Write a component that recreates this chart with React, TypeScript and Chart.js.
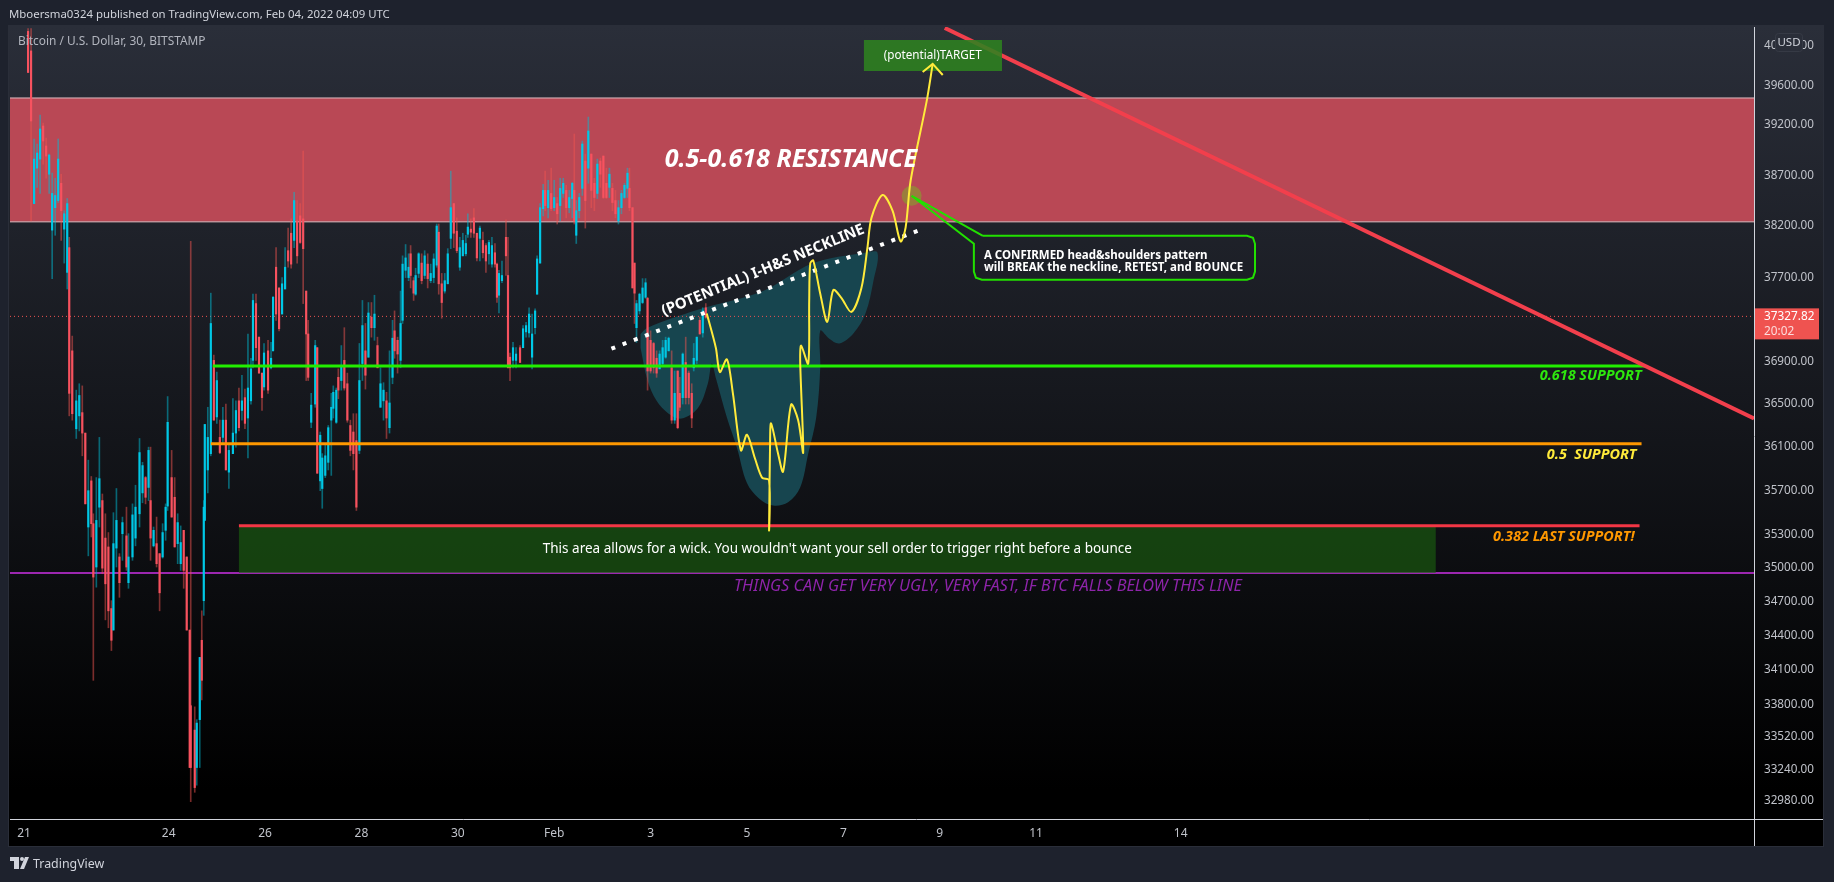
import React, { useEffect, useRef } from "react";
import { Chart, registerables } from "chart.js";

Chart.register(...registerables);

const FONT = '"Noto Sans", sans-serif';

// x unit: 30-minute bars counted from Jan 21 00:00 (48 per day)
const tickBars = [0, 144, 240, 336, 432, 528, 624, 720, 816, 912, 1008, 1152];
const tickLabels = ["21", "24", "26", "28", "30", "Feb", "3", "5", "7", "9", "11", "14"];
const priceTicks = [40000, 39600, 39200, 38700, 38200, 37700, 36900, 36500, 36100, 35700, 35300, 35000, 34700, 34400, 34100, 33800, 33520, 33240, 32980];

const bars = [4,7,10,13,16,19,22,25,28,31,34,37,40,43,45,48,52,55,58,61,
64,67,69,72,75,78,81,84,87,89,92,95,98,102,104,108,111,115,118,121,
124,126,129,132,135,138,141,143,147,150,153,156,159,162,165,166,170,172,175,177,
179,180,183,186,189,192,195,198,201,204,208,211,214,217,220,223,226,228,231,234,
237,239,243,246,248,251,254,257,260,263,266,269,272,275,278,281,283,286,290,292,
295,297,300,303,306,308,311,313,316,319,322,325,328,331,334,337,340,343,346,349,
352,355,358,361,364,367,369,372,375,377,380,383,385,388,390,393,396,399,402,405,
408,411,413,416,419,422,425,428,431,434,437,440,442,445,448,451,454,457,460,463,
466,469,471,473,476,480,482,484,487,490,494,497,500,503,506,509,511,514,517,519,
522,525,528,531,534,537,540,543,546,548,550,553,556,559,562,565,568,571,574,577,
580,583,586,589,592,595,598,601,603,606,608,610,613,616,619,621,624,627,630,633,
636,639,642,645,648,651,653,656,659,662,665,667,670,673,676,679];

const highs = [40180,40180,39060,39010,39300,39220,39070,38910,38720,38670,39060,38710,38350,38470,38090,37140,36630,36690,36670,36230,
35980,35830,35490,35820,36190,35670,35490,35320,34710,35500,35720,35130,35460,35550,35310,35580,35750,36180,35960,35830,
36100,36100,35370,35460,35130,35400,35580,36570,36070,35820,35490,35380,35340,35100,34450,38050,33780,33670,34210,34620,
35610,36310,36470,37550,36960,36800,36350,36470,36500,36130,36550,36530,36650,36770,36640,37160,36930,37540,37540,37130,
36790,37070,37100,37080,37520,37990,37600,37700,37990,38180,38270,38530,38450,38420,38940,37570,37290,36600,37100,37030,
36240,36040,36130,36300,36600,36670,36650,36830,37050,37220,36790,36350,36410,36410,37070,37480,37260,37460,37460,37530,
37130,36840,36700,36610,37000,37290,37380,37130,37570,37910,38020,37930,38010,37700,37790,37940,37930,37960,37930,37830,
37930,38220,38220,37740,37740,37980,38740,38420,38280,38090,38130,38110,38320,38270,38370,38130,38200,38140,38030,38060,
38090,38030,37840,37770,37860,38260,38090,36980,37080,37030,37050,37240,37270,37410,37350,37400,37910,38420,38610,38740,
38650,38770,38650,38480,38670,38670,38600,38550,38630,39110,38450,38520,39040,38910,39280,38910,38670,38860,38870,38890,
38770,38770,38620,38550,38450,38550,38620,38770,38770,38380,37840,37480,37550,37690,37690,37510,37190,37080,37000,37000,
37100,37130,37130,37000,36810,36810,36750,36980,37130,36810,36690,37070,37130,37320,37410,37450];

const lows = [39730,38250,38420,38580,38520,38810,38670,38520,37690,38110,38430,38060,37840,37590,36390,36350,36180,36250,36020,35580,
35110,35280,34010,34830,35370,34950,34540,34470,34270,34450,35010,34740,35070,34980,34820,35070,35200,35370,35590,35580,
35610,35070,35190,35010,34620,35090,35250,35520,35460,35190,35040,34980,34820,34450,33260,32970,33050,33110,33260,33840,
34580,35430,35680,36020,36350,36320,36040,36130,35890,35720,36040,36100,36250,36350,36270,36000,36500,36840,36910,36790,
36440,36630,36600,36830,37000,37290,37190,37350,37590,37800,37790,37990,37840,38030,37450,36720,36720,36280,36470,35860,
35700,35540,35820,35890,35840,36370,36320,36550,36630,36630,36330,36020,35890,35520,36040,36720,36640,36940,37130,37100,
36840,36470,36350,36180,36230,36690,36930,36790,36840,37260,37700,37670,37600,37480,37530,37700,37640,37690,37600,37650,
37650,37800,37540,37310,37550,37640,37980,37990,37940,37770,37910,37910,38090,38090,38090,37860,37860,37890,37750,37830,
37800,37800,37460,37360,37650,37720,36840,36720,36840,36840,36890,37030,37130,37130,36830,37160,37540,37840,38300,38350,
38280,38350,38350,38220,38250,38480,38280,38330,38280,38220,38030,38280,38500,38180,38620,38380,38350,38470,38580,38470,
38470,38480,38350,38280,38220,38320,38470,38480,38350,37600,37260,37080,37350,37450,37500,36630,36790,36790,36750,36830,
36860,36930,37000,36320,36320,36270,36440,36500,36500,36500,36280,36810,36880,37160,37130,37310];

const opens = [40150,39950,38420,38770,38860,39190,38990,38710,38160,38380,38450,38620,38170,37750,37990,37000,36270,36390,36420,36230,
35370,35790,35400,35010,35550,35610,35270,35190,34640,34450,35180,35100,35310,35290,34870,35100,35270,35490,35680,35820,
35730,35610,35200,35220,35130,35100,35340,35560,35820,35640,35220,35040,35340,35100,34450,33790,33580,33260,33670,34360,
34710,35430,35890,36040,36910,36380,36190,36190,36350,35870,36040,36230,36530,36440,36560,36370,36530,36910,37450,37130,
36790,36660,37000,36840,37000,37800,37600,37350,37590,37960,38130,38060,38250,38300,38270,37570,37160,36330,36500,37030,
35790,35720,35840,35960,36350,36460,36330,36750,36720,36910,36690,36300,36240,36160,36070,36880,37000,36940,37320,37220,
37050,36470,36530,36530,36280,36750,37190,37100,36910,37290,37770,37700,37930,37670,37540,37740,37840,37720,37830,37670,
37700,37820,38140,37640,37570,37640,38080,38420,38150,37800,37910,37930,38120,38170,38280,38130,38080,38060,38010,37930,
37830,37940,37830,37530,37670,38090,37720,36940,36910,36910,37030,37030,37180,37170,36940,37220,37540,37840,38370,38550,
38380,38520,38380,38420,38400,38520,38550,38380,38470,38550,38110,38350,38570,38840,38770,38910,38620,38520,38840,38890,
38620,38580,38570,38450,38250,38380,38480,38570,38570,38380,37840,37220,37380,37460,37510,37500,37100,37070,36930,36830,
36880,36940,37000,36840,36350,36810,36600,36560,36890,36790,36600,36840,36910,37290,37170,37410];

const closes = [39730,39240,38860,38920,39160,39040,38890,38900,38520,38500,38860,38350,38320,38420,36600,36410,36530,36580,36230,35580,
35700,35400,34920,35430,35810,35000,34860,34620,34360,35220,35430,34870,35410,35010,35100,35480,35550,36050,35930,35640,
36070,35270,35340,35040,34780,35320,35550,36330,35460,35190,35410,35230,34980,34450,33260,33260,33090,33640,34210,34010,
35550,36310,36190,37260,36350,36720,36050,36350,35890,36070,36230,36440,36280,36530,36320,36650,36830,37480,37030,36790,
36560,36980,36630,36930,37510,37350,37210,37640,37800,37860,37830,38450,37910,38040,37980,37160,36750,36490,37050,35860,
36210,36000,36020,36280,36470,36610,36630,36630,36860,36650,36350,36070,36040,35550,36720,37240,36770,37360,37220,37350,
36840,36690,36630,36370,36510,37120,37000,36970,37260,37830,37890,37800,37720,37550,37720,37930,37670,37910,37690,37740,
37880,38200,37640,37460,37670,37930,38380,38130,37960,37990,38060,38030,38190,38140,38130,37890,38180,37940,37860,38040,
38010,37830,37510,37740,37720,37910,36840,36840,37030,36970,36890,37210,37240,37350,37160,37380,37880,38380,38550,38400,
38550,38370,38480,38320,38570,38620,38380,38480,38620,38250,38350,38480,39010,38450,39140,38550,38480,38810,38710,38480,
38480,38710,38430,38320,38380,38520,38600,38720,38380,37600,37550,37450,37540,37600,37650,36810,36810,36840,36790,36970,
37030,37100,37120,36350,36600,36280,36470,36970,36560,36560,36370,36930,37130,37160,37380,37320];

// horizontal levels
const resistanceTop = 39472;
const resistanceBottom = 38241;
const support618 = 36856;
const support05 = 36132;
const support382 = 35382;
const ugliness = 34956;
const lastPrice = 37327.82;
const wickZoneTop = 35375;

// hand-drawn projected path
const projBars = [680,689,693,700,706,714,720,728,735,742,742,743,744,751,756,764,771,776,773,774,781,782,783,786,793,800,806,814,824,834,840,844,855,865,873,878,883,899,905];
const projPrices = [37355,37030,36800,36920,36600,36070,36215,35995,35820,35794,35340,36115,36320,36040,35875,36495,36350,36050,36910,37050,36880,37480,37835,37865,37545,37275,37580,37505,37370,37600,37990,38280,38505,38350,38050,38185,38645,39440,39817];
const arrowBars = [895, 905, 915];
const arrowPrices = [39735, 39817, 39705];

// inverse head & shoulders brush shape
const blobBars = [614,621,671,736,785,838,850,846,838,826,812,802,793,793,789,781,773,761,746,732,720,710,700,689,685,681,671,655,642,630,621,614];
const blobPrices = [37160,37220,37390,37570,37835,37940,37940,37670,37355,37165,37070,37115,37190,36840,36375,36040,35730,35595,35565,35630,35770,36095,36375,36745,36880,36690,36460,36365,36410,36530,36720,37030];

// callout outline
const calloutBars = [955,1218,1224,1226,1226,1224,1218,954,948,946,946,884,955];
const calloutPrices = [38105,38105,38086,38027,37757,37699,37680,37680,37699,37757,38027,38497,38105];

const necklineBars = [585, 897];
const necklinePrices = [37020, 38180];
const trendBars = [917, 1723];
const trendPrices = [40185, 36365];
const targetBars = [836.5, 974];
const targetPrices = [40061, 39746];
const calloutDot = { bar: 884, price: 38497 };

const X_MIN = -14;
const X_MAX = 1723;

const labels = [
  { text: "0.5-0.618 RESISTANCE", bar: 638, price: 38855, font: `italic bold 25px ${FONT}`, color: "#ffffff", align: "left", rot: 0 },
  { text: "(POTENTIAL) I-H&S NECKLINE", bar: 736, price: 37770, font: `bold 15px ${FONT}`, color: "#ffffff", align: "center", rot: -22.4 },
  { text: "0.618 SUPPORT", bar: 1611, price: 36760, font: `italic bold 14.4px ${FONT}`, color: "#2ee80e", align: "right", rot: 0 },
  { text: "0.5  SUPPORT", bar: 1606, price: 36030, font: `italic bold 14.4px ${FONT}`, color: "#ffeb3b", align: "right", rot: 0 },
  { text: "0.382 LAST SUPPORT!", bar: 1604, price: 35285, font: `italic bold 14.4px ${FONT}`, color: "#ff9800", align: "right", rot: 0 },
  { text: "THINGS CAN GET VERY UGLY, VERY FAST, IF BTC FALLS BELOW THIS LINE", bar: 960, price: 34840, font: `italic 16.3px ${FONT}`, color: "#8e24aa", align: "center", rot: 0 },
  { text: "This area allows for a wick. You wouldn't want your sell order to trigger right before a bounce", bar: 810, price: 35170, font: `13.5px ${FONT}`, color: "#ffffff", align: "center", rot: 0 },
  { text: "(potential)TARGET", bar: 905, price: 39903, font: `11.7px ${FONT}`, color: "#ffffff", align: "center", rot: 0 },
  { text: "A CONFIRMED head&shoulders pattern", bar: 956, price: 37910, font: `bold 11.5px ${FONT}`, color: "#ffffff", align: "left", rot: 0 },
  { text: "will BREAK the neckline, RETEST, and BOUNCE", bar: 956, price: 37795, font: `bold 11.5px ${FONT}`, color: "#ffffff", align: "left", rot: 0 },
];

const zip = (xs: number[], ys: number[]) => xs.map((x, i) => ({ x, y: ys[i] }));
const seg = (b0: number, b1: number, p: number) => [{ x: b0, y: p }, { x: b1, y: p }];
const rect = (b0: number, b1: number, top: number, bottom: number) => [
  { x: b0, y: top }, { x: b1, y: top }, { x: b1, y: bottom }, { x: b0, y: bottom },
];
const line = (data: any[], color: string, width: number, order: number, extra: any = {}) => ({
  type: "line", data, borderColor: color, borderWidth: width, pointRadius: 0, fill: false, order, tension: 0, ...extra,
});
const area = (data: any[], color: string, order: number, extra: any = {}) => ({
  type: "line", data, backgroundColor: color, borderWidth: 0, pointRadius: 0, fill: "shape", order, tension: 0, ...extra,
});

const UP_BODY = "#00c8e6";
const DOWN_BODY = "#f7525f";
const UP_WICK = "rgba(0,188,212,0.5)";
const DOWN_WICK = "rgba(239,83,80,0.5)";

const chromePlugin = {
  id: "chrome",
  beforeDraw(chart: any) {
    const { ctx, width, height } = chart;
    ctx.save();
    ctx.fillStyle = "#1e222d";
    ctx.fillRect(0, 0, width, height);
    const g = ctx.createLinearGradient(0, 26, 0, 790);
    g.addColorStop(0, "#2a2e39");
    g.addColorStop(1, "#000000");
    ctx.fillStyle = g;
    ctx.fillRect(9, 26, 1814, 820);
    ctx.restore();
  },
  afterDraw(chart: any) {
    const { ctx, chartArea, scales } = chart;
    const { left, right, top, bottom } = chartArea;
    ctx.save();
    // axis rules
    ctx.strokeStyle = "#d1d4dc";
    ctx.lineWidth = 1;
    ctx.beginPath();
    ctx.moveTo(right + 0.5, top);
    ctx.lineTo(right + 0.5, 846);
    ctx.moveTo(left, bottom + 0.5);
    ctx.lineTo(1823, bottom + 0.5);
    ctx.stroke();
    // panel edge
    ctx.strokeStyle = "#2a2e39";
    ctx.strokeRect(8.5, 25.5, 1815, 821);
    // header
    ctx.textBaseline = "middle";
    ctx.textAlign = "left";
    ctx.fillStyle = "#d1d4dc";
    ctx.font = `11.4px ${FONT}`;
    ctx.fillText("Mboersma0324 published on TradingView.com, Feb 04, 2022 04:09 UTC", 9, 15);
    ctx.fillStyle = "#b2b5be";
    ctx.font = `11.9px ${FONT}`;
    ctx.fillText("Bitcoin / U.S. Dollar, 30, BITSTAMP", 18, 42);
    // logo
    ctx.fillStyle = "#d1d4dc";
    ctx.fillRect(10, 857, 9, 4);
    ctx.fillRect(14, 857, 5, 12);
    ctx.beginPath();
    ctx.arc(22, 859, 2, 0, Math.PI * 2);
    ctx.fill();
    ctx.beginPath();
    ctx.moveTo(25, 857);
    ctx.lineTo(29, 857);
    ctx.lineTo(24, 869);
    ctx.lineTo(20, 869);
    ctx.closePath();
    ctx.fill();
    ctx.font = `12.4px ${FONT}`;
    ctx.fillText("TradingView", 33, 864);
    // USD chip
    ctx.fillStyle = "#2a2e39";
    ctx.strokeStyle = "#363a45";
    ctx.beginPath();
    ctx.roundRect(1775.5, 33.5, 27, 18, 3);
    ctx.fill();
    ctx.stroke();
    ctx.fillStyle = "#d1d4dc";
    ctx.font = `11.5px ${FONT}`;
    ctx.textAlign = "center";
    ctx.fillText("USD", 1789, 43);
    // last price tag
    const py = scales.y.getPixelForValue(lastPrice);
    ctx.fillStyle = "#ef5350";
    ctx.fillRect(right + 1, py - 8, 64, 31);
    ctx.textAlign = "left";
    ctx.fillStyle = "#ffffff";
    ctx.font = `11.8px ${FONT}`;
    ctx.fillText(lastPrice.toFixed(2), 1764, py);
    ctx.fillStyle = "#fcdcdc";
    ctx.fillText("20:02", 1764, py + 15);
    ctx.restore();
  },
  afterDatasetsDraw(chart: any) {
    const { ctx, scales } = chart;
    ctx.save();
    ctx.textBaseline = "middle";
    for (const l of labels) {
      const px = scales.x.getPixelForValue(l.bar);
      const py = scales.y.getPixelForValue(l.price);
      ctx.save();
      ctx.translate(px, py);
      ctx.rotate((l.rot * Math.PI) / 180);
      ctx.font = l.font;
      ctx.fillStyle = l.color;
      ctx.textAlign = l.align;
      ctx.fillText(l.text, 0, 0);
      ctx.restore();
    }
    ctx.restore();
  },
};

export default function App() {
  const ref = useRef<HTMLCanvasElement | null>(null);
  useEffect(() => {
    if (!ref.current) return;
    const isUp = closes.map((c, i) => c >= opens[i]);
    const chart = new Chart(ref.current, {
      type: "bar",
      data: {
        datasets: [
          area(rect(X_MIN, X_MAX, resistanceTop, resistanceBottom), "#b94855", 90),
          line(seg(X_MIN, X_MAX, resistanceTop), "#e0bcc0", 1, 89),
          line(seg(X_MIN, X_MAX, resistanceBottom), "#e0bcc0", 1, 89),
          line(seg(X_MIN, X_MAX, ugliness), "#9c27b0", 2, 88),
          area(rect(214, 1406, wickZoneTop, ugliness), "rgba(26,94,16,0.65)", 87),
          area(zip(blobBars, blobPrices), "#17454f", 86, { tension: 0.35 }),
          line(seg(X_MIN, X_MAX, lastPrice), "#ef5350", 1, 85, { borderDash: [1, 3] }),
          {
            type: "bar", grouped: false, barThickness: 1, order: 80,
            data: bars.map((b, i) => ({ x: b, y: [lows[i], highs[i]] })),
            backgroundColor: isUp.map((u) => (u ? UP_WICK : DOWN_WICK)),
          },
          {
            type: "bar", grouped: false, barThickness: 1.5, order: 79,
            data: bars.map((b, i) => ({ x: b, y: [opens[i], closes[i]] })),
            backgroundColor: isUp.map((u) => (u ? UP_BODY : DOWN_BODY)),
          },
          line(seg(188, 1615, support618), "#22ee00", 3, 70),
          line(seg(186, 1611, support05), "#ff9800", 3, 70),
          line(seg(214, 1609, support382), "#f23645", 3, 70),
          line(zip(trendBars, trendPrices), "#f23f4c", 4, 60),
          area(rect(targetBars[0], targetBars[1], targetPrices[0], targetPrices[1]), "rgba(46,130,32,0.88)", 58),
          line(zip(necklineBars, necklinePrices), "#ffffff", 4, 50, { borderDash: [4, 8] }),
          line([{ x: calloutDot.bar, y: calloutDot.price }], "transparent", 0, 48, {
            showLine: false, pointRadius: 10, pointBackgroundColor: "rgba(130,170,40,0.55)", pointBorderWidth: 0,
          }),
          line(zip(calloutBars, calloutPrices), "#22e000", 2, 46),
          line(zip(projBars, projPrices), "#ffeb3b", 2, 40, { tension: 0.3 }),
          line(zip(arrowBars, arrowPrices), "#ffeb3b", 2, 40),
        ] as any,
      },
      options: {
        responsive: false,
        animation: false,
        devicePixelRatio: 1,
        events: [],
        layout: { padding: { left: 10, top: 27, right: 11, bottom: 36 } },
        plugins: { legend: { display: false }, tooltip: { enabled: false }, title: { display: false } },
        scales: {
          x: {
            type: "linear",
            offset: false,
            min: X_MIN,
            max: X_MAX,
            grid: { display: false, drawTicks: false },
            border: { display: false },
            afterBuildTicks: (s: any) => { s.ticks = tickBars.map((value) => ({ value })); },
            afterFit: (s: any) => { s.height = 27; },
            ticks: {
              autoSkip: false, maxRotation: 0, minRotation: 0, padding: 7,
              color: "#c0c3ca", font: { family: "Noto Sans", size: 12 },
              callback: (v: any) => tickLabels[tickBars.indexOf(Number(v))],
            },
          },
          y: {
            type: "logarithmic",
            position: "right",
            bounds: "data",
            min: 32825,
            max: 40195,
            grid: { display: false, drawTicks: false },
            border: { display: false },
            afterBuildTicks: (s: any) => { s.ticks = priceTicks.map((value) => ({ value })); },
            afterFit: (s: any) => { s.width = 69; },
            ticks: {
              autoSkip: false, padding: 10, crossAlign: "near",
              color: "#c0c3ca", font: { family: "Noto Sans", size: 11.7 },
              callback: (v: any) => Number(v).toFixed(2),
            },
          },
        },
      } as any,
      plugins: [chromePlugin as any],
    });
    return () => chart.destroy();
  }, []);
  return (
    <div style={{ position: "fixed", left: 0, top: 0, width: 1834, height: 882, overflow: "hidden" }}>
      <canvas ref={ref} width={1834} height={882} style={{ display: "block", width: 1834, height: 882 }} />
    </div>
  );
}
